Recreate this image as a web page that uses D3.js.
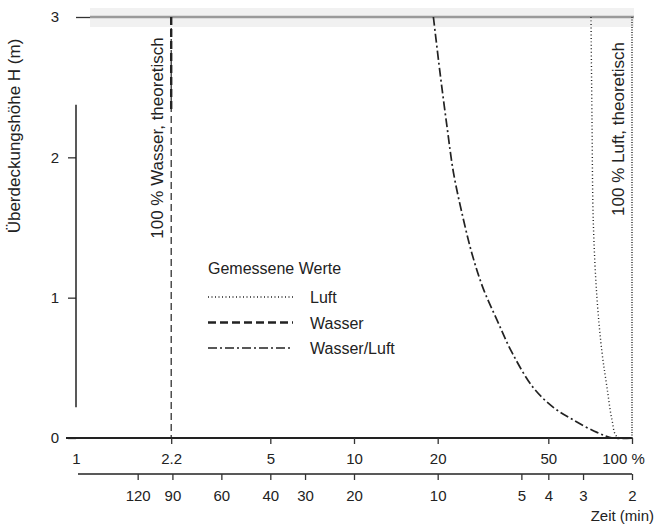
<!DOCTYPE html>
<html>
<head>
<meta charset="utf-8">
<script src="https://cdn.jsdelivr.net/npm/d3@7"></script>
<style>
  body { margin: 0; background: #fff; }
  svg text { font-family: "Liberation Sans", Arial, sans-serif; fill: #222; }
</style>
</head>
<body>
<div id="chart"></div>
<script>
// Werte
var pctTicks = [1, 2.2, 5, 10, 20, 50, 100];
var timeTicks = [120, 90, 60, 40, 30, 20, 10, 5, 4, 3, 2];
var hTicks = [0, 1, 2, 3];

// gemessene Werte: Wasser/Luft
var mixPct = [19.3, 20.4, 21.6, 22.8, 24.6, 26.6, 29.1, 32.7, 37.0, 44.1, 52.0, 61.3, 74.8, 85.4, 100];
var mixH   = [3.0, 2.60, 2.22, 1.89, 1.58, 1.31, 1.07, 0.84, 0.61, 0.36, 0.22, 0.13, 0.04, 0.0, 0.0];
// gemessene Werte: Luft
var luftPct = [71.2, 71.8, 72.6, 74.8, 78.0, 81.3, 84.7, 88.3, 100];
var luftH   = [3.0, 2.27, 1.53, 1.0, 0.61, 0.36, 0.13, 0.01, 0.0];
// gemessene Werte: Wasser
var wasserPct = [2.2, 2.2];
var wasserH   = [3.0, 2.32];
// theoretische Werte
var theoPct = [2.2, 100];

var width = 656, height = 525;
var svg = d3.select('#chart').append('svg')
    .attr('width', width).attr('height', height);

var x = d3.scaleLog().domain([1, 100]).range([76, 632]);
var xt = d3.scaleLog().domain([200, 2]).range([76, 632]);   // Zeit = 200 / Prozent
var y = d3.scaleLinear().domain([0, 3]).range([438, 17]);

// grauer Streifen oben (Scan)
svg.append('rect')
    .attr('x', 90).attr('y', y(3) - 9).attr('width', 544).attr('height', 19)
    .style('fill', '#f1f1f1');
svg.append('line')
    .attr('x1', 90).attr('x2', 634).attr('y1', y(3)).attr('y2', y(3))
    .style('stroke', '#9a9a9a').style('stroke-width', 2.5);

// y-Achse
var yAxis = svg.append('g').attr('transform', 'translate(76,0)')
    .call(d3.axisLeft(y).tickValues(hTicks).tickSize(8).tickPadding(9).tickFormat(d3.format('d')));
yAxis.select('.domain').remove();
yAxis.selectAll('.tick line').style('stroke', '#333').style('stroke-width', 1.3);
yAxis.selectAll('.tick text').style('font-size', '15px').style('fill', '#222');
yAxis.selectAll('.tick').filter(function(d) { return d === 3; }).select('line')
    .attr('x2', 14);
svg.append('line')
    .attr('x1', 76).attr('x2', 76).attr('y1', y(2.375)).attr('y2', y(0.22))
    .style('stroke', '#222').style('stroke-width', 1.5);

svg.append('text')
    .attr('transform', 'translate(20,' + 136 + ') rotate(-90)')
    .style('text-anchor', 'middle').style('font-size', '17px')
    .text('Überdeckungshöhe H (m)');

// x-Achse Prozent
var xAxis = svg.append('g').attr('transform', 'translate(0,' + y(0) + ')')
    .call(d3.axisBottom(x).tickValues(pctTicks).tickSize(6).tickPadding(9)
        .tickFormat(function(d) { return d === 100 ? '100 %' : d; }));
xAxis.select('.domain').attr('d', 'M66,0H632').style('stroke', '#222').style('stroke-width', 1.8);
xAxis.selectAll('.tick line').style('stroke', '#333').style('stroke-width', 1.3);
xAxis.selectAll('.tick').filter(function(d) { return d === 1; }).select('line').remove();
xAxis.selectAll('.tick text').style('font-size', '15px').style('fill', '#222');
xAxis.selectAll('.tick').filter(function(d) { return d === 100; }).select('text')
    .attr('dx', -9);

// x-Achse Zeit
var tAxis = svg.append('g').attr('transform', 'translate(0,474)')
    .call(d3.axisBottom(xt).tickValues(timeTicks).tickSize(6).tickPadding(10).tickFormat(d3.format('d')));
tAxis.select('.domain').attr('d', 'M78,0H632').style('stroke', '#222').style('stroke-width', 1.5);
tAxis.selectAll('.tick line').style('stroke', '#333').style('stroke-width', 1.3);
tAxis.selectAll('.tick text').style('font-size', '15px').style('fill', '#222');

svg.append('text')
    .attr('x', 654).attr('y', 521)
    .style('text-anchor', 'end').style('font-size', '15px')
    .text('Zeit (min)');

// theoretische Linien
svg.append('line')
    .attr('x1', x(theoPct[0])).attr('x2', x(theoPct[0])).attr('y1', y(3)).attr('y2', y(0))
    .style('stroke', '#222').style('stroke-width', 1.2).style('stroke-dasharray', '7,4');
svg.append('line')
    .attr('x1', x(theoPct[1])).attr('x2', x(theoPct[1])).attr('y1', y(3)).attr('y2', y(0))
    .style('stroke', '#333').style('stroke-width', 1.5).style('stroke-dasharray', '1,1.5');

svg.append('text')
    .attr('transform', 'translate(163,138) rotate(-90)')
    .style('text-anchor', 'middle').style('font-size', '17px')
    .text('100 % Wasser, theoretisch');
svg.append('text')
    .attr('transform', 'translate(624,129) rotate(-90)')
    .style('text-anchor', 'middle').style('font-size', '17px')
    .text('100 % Luft, theoretisch');

// gemessene Kurven
var line = d3.line()
    .x(function(d) { return x(d[0]); })
    .y(function(d) { return y(d[1]); })
    .curve(d3.curveCatmullRom.alpha(0.5));

var series = [
    {name: 'Luft', pct: luftPct, h: luftH, dash: '1,2.5', w: 1.4},
    {name: 'Wasser', pct: wasserPct, h: wasserH, dash: '8,4', w: 2.4},
    {name: 'Wasser/Luft', pct: mixPct, h: mixH, dash: '9,3,2,3', w: 1.7}
];

series.forEach(function(s) {
    var pts = d3.zip(s.pct, s.h);
    svg.append('path')
        .attr('d', line(pts))
        .style('fill', 'none')
        .style('stroke', '#222')
        .style('stroke-width', s.w)
        .style('stroke-dasharray', s.dash);
});

// Legende
var lg = svg.append('g');
lg.append('text')
    .attr('x', 208).attr('y', 274)
    .style('font-size', '16px')
    .text('Gemessene Werte');
var rows = lg.selectAll('.row').data(series).enter().append('g')
    .attr('transform', function(d, i) { return 'translate(0,' + (297 + i * 25.5) + ')'; });
rows.append('line')
    .attr('x1', 208).attr('x2', 293)
    .style('stroke', '#222')
    .style('stroke-width', function(d) { return d.w; })
    .style('stroke-dasharray', function(d) { return d.dash; });
rows.append('text')
    .attr('x', 310).attr('y', 6)
    .style('font-size', '16px')
    .text(function(d) { return d.name; });
</script>
</body>
</html>
